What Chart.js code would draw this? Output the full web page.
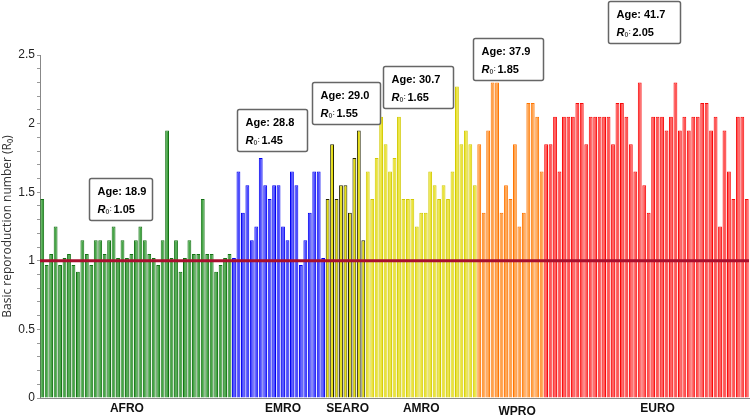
<!DOCTYPE html>
<html>
<head>
<meta charset="utf-8">
<script src="https://cdn.jsdelivr.net/npm/chart.js@4.4.1/dist/chart.umd.min.js"></script>
<style>
  html, body { margin: 0; padding: 0; background: #fff; }
  #wrap { width: 755px; height: 420px; }
</style>
</head>
<body>
<div id="wrap"><canvas id="myChart" width="755" height="420"></canvas></div>
<script>
// R0 per country, grouped by WHO region
const afroR0 = [1.45, 0.97, 1.05, 1.25, 0.97, 1.02, 1.05, 0.97, 0.92, 1.15, 1.05, 0.97, 1.15, 1.15, 1.05,
  1.15, 1.25, 1.02, 1.15, 1.02, 1.05, 1.15, 1.25, 1.15, 1.05, 1.02, 0.97, 1.15, 1.95, 1.02, 1.15, 0.92,
  1.02, 1.15, 1.05, 1.05, 1.45, 1.05, 1.05, 0.92, 0.97, 1.02, 1.05];
const emroR0 = [1.02, 1.65, 1.35, 1.55, 1.15, 1.25, 1.75, 1.55, 1.45, 1.55, 1.55, 1.25, 1.15, 1.65, 1.55,
  0.97, 1.15, 1.35, 1.65, 1.65, 1.02];
const searoR0 = [1.45, 1.85, 1.45, 1.55, 1.55, 1.35, 1.75, 1.95, 1.15];
const amroR0 = [1.65, 1.45, 1.75, 2.05, 1.85, 1.65, 1.75, 2.05, 1.45, 1.45, 1.45, 1.25, 1.35, 1.35, 1.65,
  1.55, 1.45, 1.55, 1.45, 1.65, 2.27, 1.85, 1.95, 1.85, 1.55];
const wproR0 = [1.85, 1.35, 1.95, 2.3, 2.3, 1.35, 1.55, 1.45, 1.85, 1.25, 1.35, 2.15, 2.15, 2.05, 1.65];
const euroR0 = [1.85, 1.85, 2.05, 1.65, 2.05, 2.05, 2.05, 2.15, 2.15, 1.85, 2.05, 2.05, 2.05, 2.05, 2.05,
  1.85, 2.15, 2.15, 2.05, 1.85, 1.65, 2.3, 1.55, 1.35, 2.05, 2.05, 2.05, 1.95, 2.05, 2.3, 1.95, 2.05,
  1.95, 2.05, 2.05, 2.15, 2.15, 1.95, 2.05, 1.25, 1.95, 1.65, 1.45, 2.05, 2.05, 1.45];

const regionNames = ["AFRO", "EMRO", "SEARO", "AMRO", "WPRO", "EURO"];
const regionValues = [afroR0, emroR0, searoR0, amroR0, wproR0, euroR0];
const regionAge = ["18.9", "28.8", "29.0", "30.7", "37.9", "41.7"];
const regionMeanR0 = ["1.05", "1.45", "1.55", "1.65", "1.85", "2.05"];
const thresholdR0 = 1;

// styles
const regionBorder = ["#147214", "#0000f0", "#262600", "#d2ca00", "#ff7400", "#f80808"];
const regionFill = ["#46a646", "#4c4cff", "#e6de10", "#ebe43a", "#ffa24a", "#ff5656"];
// where each region name sits under the axis (bar index) and the info box (bar index, top value)
const labelAtIndex = [19, 54, 68.5, 85, 106.5, 138];
const labelDy = [0, 0, 0, 0, 3, 0];
const boxAt = [[10.5, 1.60], [43.7, 2.106], [60.5, 2.30], [76.4, 2.42], [96.6, 2.625], [126.9, 2.895]];
const boxW = [63, 70, 68, 70, 70, 72];

// flatten into one bar series
let r0Values = [], barBorders = [], barFills = [], countryLabels = [];
regionValues.forEach(function (vals, r) {
  vals.forEach(function (v, i) {
    r0Values.push(v);
    barBorders.push(regionBorder[r]);
    barFills.push(regionFill[r]);
    countryLabels.push(regionNames[r] + " " + (i + 1));
  });
});

const overlayPlugin = {
  id: "overlay",
  afterDatasetsDraw(chart) {
    const c = chart.ctx;
    const xs = chart.scales.x, ys = chart.scales.y;
    const area = chart.chartArea;
    const step = xs.getPixelForValue(1) - xs.getPixelForValue(0);
    const idxPx = (i) => xs.getPixelForValue(0) + i * step;
    c.save();
    // threshold line
    const yLine = ys.getPixelForValue(thresholdR0);
    c.strokeStyle = "#a80f2e";
    c.lineWidth = 3;
    c.beginPath();
    c.moveTo(area.left, yLine);
    c.lineTo(area.right, yLine);
    c.stroke();
    // region names
    c.fillStyle = "#111";
    c.font = "bold 12px 'Liberation Sans', Arial, sans-serif";
    c.textAlign = "center";
    c.textBaseline = "middle";
    regionNames.forEach(function (n, r) {
      c.fillText(n, idxPx(labelAtIndex[r]), area.bottom + 11 + labelDy[r]);
    });
    // info boxes
    regionNames.forEach(function (n, r) {
      const bx = Math.round(idxPx(boxAt[r][0])) + 0.5;
      const by = Math.round(ys.getPixelForValue(boxAt[r][1])) + 0.5;
      const bw = boxW[r], bh = 42;
      c.fillStyle = "#fff";
      c.strokeStyle = "#666";
      c.lineWidth = 1.5;
      c.beginPath();
      c.roundRect(bx, by, bw, bh, 2);
      c.fill();
      c.stroke();
      c.fillStyle = "#000";
      c.textAlign = "left";
      c.textBaseline = "middle";
      c.font = "bold 11px 'Liberation Sans', Arial, sans-serif";
      c.fillText("Age: " + regionAge[r], bx + 8, by + 13);
      c.font = "italic bold 11px 'Liberation Sans', Arial, sans-serif";
      c.fillText("R", bx + 8, by + 31);
      c.font = "bold 7px 'Liberation Sans', Arial, sans-serif";
      c.fillStyle = "#555";
      c.fillText("0", bx + 16, by + 34);
      c.fillText(":", bx + 20, by + 31);
      c.fillStyle = "#000";
      c.font = "bold 11px 'Liberation Sans', Arial, sans-serif";
      c.fillText(regionMeanR0[r], bx + 24, by + 31);
    });
    c.restore();
  }
};

const ctx = document.getElementById("myChart");
const myChart = new Chart(ctx, {
  type: "bar",
  data: {
    labels: countryLabels,
    datasets: [{
      label: "R0",
      data: r0Values,
      backgroundColor: barFills,
      borderColor: barBorders,
      borderWidth: 1,
      borderSkipped: "bottom",
      barPercentage: 0.86,
      categoryPercentage: 1.0
    }]
  },
  options: {
    responsive: false,
    animation: false,
    layout: { padding: { top: 55, right: 6, left: 0, bottom: 0 } },
    plugins: { legend: { display: false }, tooltip: { enabled: false } },
    scales: {
      x: {
        ticks: { display: false },
        grid: { display: false },
        border: { color: "#888", width: 1 },
        afterFit: function (scale) { scale.height = 22; }
      },
      y: {
        min: 0,
        max: 2.5,
        ticks: {
          stepSize: 0.1,
          autoSkip: false,
          color: "#222",
          padding: 2,
          font: { family: "'Liberation Sans', Arial, sans-serif", size: 12 },
          callback: function (v) {
            const h = v * 2;
            if (Math.abs(h - Math.round(h)) < 1e-6) return String(Math.round(h) / 2);
            return "";
          }
        },
        grid: { drawOnChartArea: false, tickLength: 3, color: "#999" },
        border: { color: "#888", width: 1 },
        title: {
          display: true,
          text: "Basic reporoduction number (R\u2080)",
          color: "#333",
          padding: { top: 0, bottom: 2 },
          font: { family: "'Open Sans', sans-serif", size: 12 }
        },
        afterFit: function (scale) { scale.width = 40; }
      }
    }
  },
  plugins: [overlayPlugin]
});
</script>
</body>
</html>
